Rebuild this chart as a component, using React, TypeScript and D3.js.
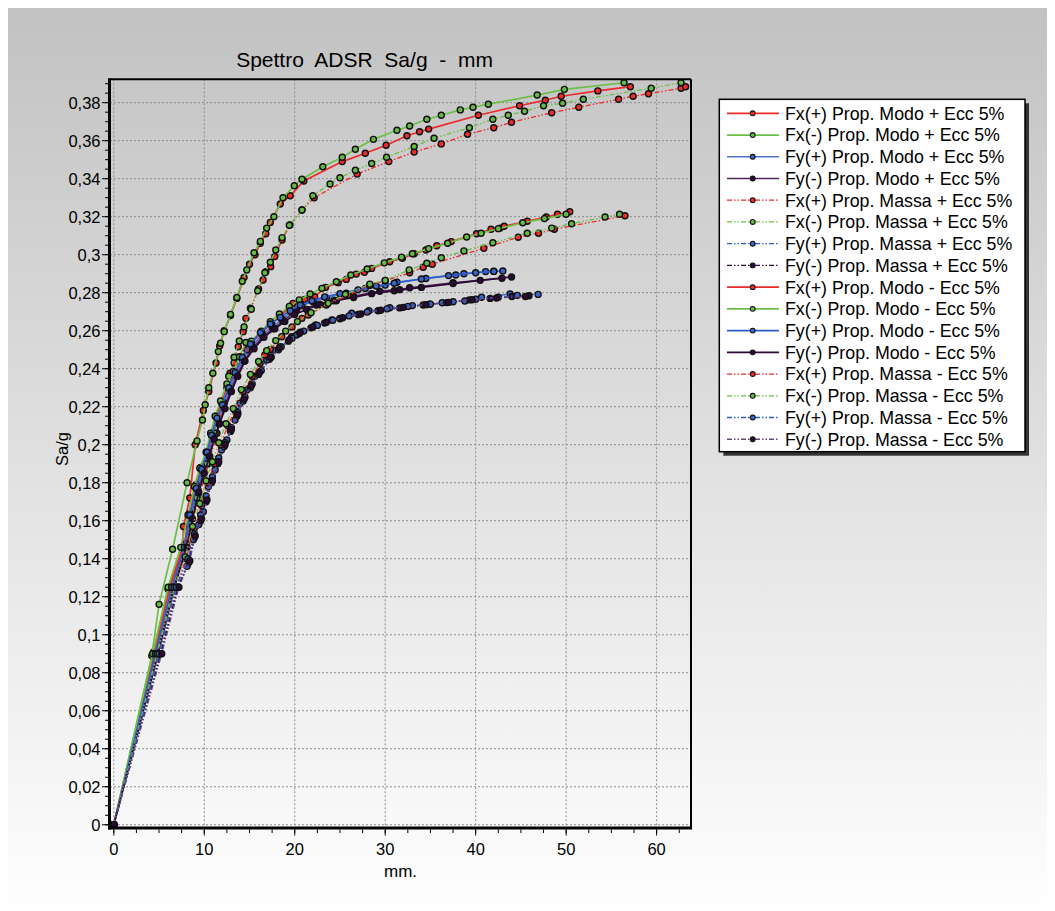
import React from "react";
import * as d3 from "d3";

type Pt = [number, number];

// Pushover capacity curves: displacement (mm) vs spectral acceleration (Sa/g)
const fxPosModoPiu: Pt[] = [
  [0, 0], [4.4, 0.091], [6.0, 0.124], [7.6, 0.146], [7.7, 0.157], [8.4, 0.172], [9.0, 0.2], [9.9, 0.218],
  [10.5, 0.228], [11.3, 0.243], [11.7, 0.252], [12.2, 0.26], [12.9, 0.268], [13.6, 0.277], [14.4, 0.288],
  [15.0, 0.295], [15.6, 0.3], [16.2, 0.306], [16.8, 0.311], [17.3, 0.317], [18.4, 0.3267], [19.5, 0.331],
  [21.0, 0.3388], [25.25, 0.349], [27.8, 0.3534], [30.1, 0.3576], [32.4, 0.3626], [33.8, 0.3647],
  [34.8, 0.3661], [40.3, 0.3734], [44.85, 0.3784], [47.7, 0.3813], [49.45, 0.3834], [53.5, 0.3862], [57.1, 0.3884],
];
const fxNegModoPiu: Pt[] = [
  [0, 0], [4.2, 0.089], [5.0, 0.116], [6.5, 0.145], [8.1, 0.18], [9.2, 0.202], [9.8, 0.213], [10.1, 0.221],
  [10.5, 0.23], [10.95, 0.2376], [11.55, 0.249], [11.8, 0.2534], [12.2, 0.2595], [12.9, 0.2686], [13.6, 0.2775],
  [14.2, 0.286], [14.7, 0.292], [15.5, 0.301], [16.2, 0.307], [16.9, 0.314], [17.7, 0.32], [18.7, 0.33],
  [19.95, 0.3363], [20.8, 0.3397], [23.1, 0.3463], [25.25, 0.3513], [26.7, 0.3555], [28.7, 0.3607], [31.3, 0.3655],
  [32.7, 0.3677], [34.6, 0.3713], [36.2, 0.3734], [38.3, 0.3762], [39.7, 0.3776], [41.4, 0.3792], [46.8, 0.384],
  [49.8, 0.387], [56.4, 0.3905],
];
const fyPosModoPiu: Pt[] = [
  [0, 0], [4.7, 0.09], [6.5, 0.125], [7.9, 0.146], [8.5, 0.162], [9.2, 0.176], [9.8, 0.186], [10.4, 0.195],
  [10.9, 0.204], [11.5, 0.213], [12.1, 0.22], [12.8, 0.229], [13.5, 0.237], [14.3, 0.245], [15.3, 0.252],
  [16.4, 0.258], [17.5, 0.262], [18.6, 0.266], [19.6, 0.27], [20.8, 0.2734], [22.05, 0.2753], [23.5, 0.2772],
  [25.7, 0.2797], [27.8, 0.2822], [30.0, 0.284], [31.3, 0.2855], [34.5, 0.2875], [37.8, 0.2893], [38.7, 0.29],
  [41.1, 0.2911], [42.0, 0.2913], [43.0, 0.2914],
];
const fyNegModoPiu: Pt[] = [
  [0, 0], [4.8, 0.09], [6.6, 0.125], [8.0, 0.146], [8.6, 0.161], [9.3, 0.175], [9.9, 0.185], [10.5, 0.194],
  [11.0, 0.203], [11.6, 0.211], [12.2, 0.219], [12.9, 0.228], [13.6, 0.236], [14.4, 0.244], [15.4, 0.251],
  [16.5, 0.257], [17.6, 0.261], [18.7, 0.265], [20.2, 0.2709], [22.4, 0.2735], [24.3, 0.2758], [26.5, 0.2781],
  [29.4, 0.2808], [31.6, 0.2816], [32.7, 0.2826], [37.5, 0.2852], [42.9, 0.2876],
];
const fxPosMassaPiu: Pt[] = [
  [0, 0], [4.9, 0.09], [6.7, 0.125], [8.0, 0.148], [9.4, 0.172], [10.5, 0.19], [11.4, 0.206], [12.2, 0.222],
  [12.84, 0.2376], [13.3, 0.243], [13.76, 0.2516], [14.3, 0.2595], [14.6, 0.2665], [15.1, 0.2718], [16.0, 0.282],
  [16.5, 0.2867], [16.8, 0.291], [17.34, 0.2937], [17.8, 0.299], [18.6, 0.3077], [19.47, 0.3156], [20.8, 0.3235],
  [22.15, 0.33], [26.9, 0.3424], [30.4, 0.349], [33.2, 0.354], [36.2, 0.3583], [39.1, 0.3634], [42.0, 0.3668],
  [43.96, 0.3697], [48.4, 0.3747], [51.4, 0.3776], [55.8, 0.3818], [57.4, 0.3834], [59.1, 0.3847], [62.7, 0.3876],
  [63.2, 0.3884],
];
const fxNegMassaPiu: Pt[] = [
  [0, 0], [4.7, 0.09], [6.5, 0.124], [7.8, 0.147], [9.2, 0.172], [10.3, 0.19], [11.2, 0.206], [12.0, 0.222],
  [12.7, 0.236], [13.3, 0.246], [13.87, 0.2546], [14.4, 0.262], [15.2, 0.2713], [15.9, 0.281], [16.7, 0.2905],
  [17.3, 0.296], [17.9, 0.3025], [18.6, 0.309], [19.4, 0.3155], [20.8, 0.3235], [22.0, 0.331], [23.9, 0.3372],
  [25.0, 0.3405], [26.7, 0.3444], [28.5, 0.348], [30.15, 0.3513], [33.2, 0.3569], [35.4, 0.3613], [39.3, 0.3668],
  [41.9, 0.3713], [43.6, 0.3734], [45.4, 0.3755], [47.5, 0.3784], [49.6, 0.3797], [51.9, 0.3818], [59.4, 0.3876],
  [62.7, 0.3905],
];
const fyPosMassaPiu: Pt[] = [
  [0, 0], [5.1, 0.09], [7.0, 0.125], [8.1, 0.136], [8.8, 0.15], [9.4, 0.158], [9.9, 0.1647], [10.45, 0.1779],
  [11.2, 0.1867], [11.9, 0.1972], [12.5, 0.2025], [13.4, 0.213], [13.95, 0.2218], [14.7, 0.2288], [15.6, 0.236],
  [16.9, 0.2446], [17.6, 0.2498], [18.4, 0.2516], [19.66, 0.2568], [20.2, 0.2577], [22.3, 0.263], [24.1, 0.2656],
  [25.0, 0.2665], [26.3, 0.2692], [28.2, 0.2705], [30.5, 0.2721], [33.0, 0.2732], [34.9, 0.2739], [36.3, 0.2747],
  [38.8, 0.2756], [40.65, 0.2776], [43.8, 0.2793], [46.9, 0.2791],
];
const fyNegMassaPiu: Pt[] = [
  [0, 0], [5.2, 0.09], [7.1, 0.125], [8.3, 0.138], [8.9, 0.151], [9.6, 0.16], [10.2, 0.17], [10.8, 0.18],
  [11.5, 0.19], [12.2, 0.199], [12.9, 0.207], [13.6, 0.215], [14.3, 0.223], [15.1, 0.23], [16.0, 0.237],
  [17.2, 0.245], [18.2, 0.25], [19.3, 0.2545], [20.5, 0.2585], [21.8, 0.2615], [23.3, 0.264], [25.0, 0.2663],
  [27.0, 0.2685], [29.2, 0.2705], [31.6, 0.272], [34.2, 0.2735], [36.8, 0.2748], [39.3, 0.2762], [41.6, 0.277],
  [44.0, 0.278], [45.9, 0.2784],
];
const fxPosModoMeno: Pt[] = [
  [0, 0], [4.5, 0.09], [6.2, 0.125], [7.7, 0.1455], [8.4, 0.164], [9.1, 0.179], [9.6, 0.188], [10.3, 0.196],
  [10.8, 0.205], [11.3, 0.215], [11.9, 0.222], [12.5, 0.23], [13.4, 0.2376], [14.1, 0.2455], [14.7, 0.25],
  [15.2, 0.2534], [16.35, 0.259], [17.45, 0.2639], [18.4, 0.2675], [19.8, 0.2744], [21.1, 0.2765], [22.2, 0.2779],
  [23.4, 0.2828], [24.8, 0.2853], [25.7, 0.287], [26.8, 0.2898], [27.7, 0.2907], [28.5, 0.2928], [30.5, 0.2963],
  [31.9, 0.2981], [33.2, 0.3005], [34.5, 0.3025], [35.7, 0.3047], [37.3, 0.3069], [40.1, 0.311], [41.7, 0.3134],
  [42.7, 0.314], [43.15, 0.315], [45.7, 0.3176], [47.8, 0.3198], [49.05, 0.3213], [50.4, 0.3226],
];
const fxNegModoMeno: Pt[] = [
  [0, 0], [4.3, 0.09], [6.0, 0.125], [7.4, 0.146], [8.2, 0.163], [8.9, 0.178], [9.5, 0.1876], [10.2, 0.196],
  [10.7, 0.206], [11.2, 0.215], [11.8, 0.223], [12.5, 0.232], [13.2, 0.2386], [13.9, 0.2463], [14.6, 0.2538],
  [15.2, 0.2545], [16.3, 0.2598], [17.3, 0.2648], [18.3, 0.2688], [19.4, 0.2728], [20.5, 0.2762], [21.7, 0.2793],
  [23.0, 0.2823], [24.6, 0.2858], [26.2, 0.2893], [28.0, 0.2925], [29.9, 0.2957], [31.8, 0.2987], [33.0, 0.3005],
  [34.8, 0.3032], [36.9, 0.306], [39.0, 0.3093], [40.6, 0.3113], [42.5, 0.3137], [45.2, 0.3168], [47.6, 0.319],
  [50.0, 0.3213],
];
const fyPosModoMeno: Pt[] = [
  [0, 0], [4.6, 0.09], [6.4, 0.125], [7.8, 0.146], [8.4, 0.163], [9.1, 0.177], [9.7, 0.187], [10.3, 0.196],
  [10.8, 0.205], [11.4, 0.214], [12.0, 0.221], [12.7, 0.23], [13.4, 0.238], [14.2, 0.246], [15.1, 0.253],
  [16.2, 0.259], [17.3, 0.2635], [18.4, 0.267], [19.5, 0.2705], [20.6, 0.2735], [21.9, 0.2757], [23.3, 0.2778],
  [25.0, 0.2795], [27.0, 0.2815], [29.0, 0.2835], [31.0, 0.285], [34.0, 0.2872], [37.0, 0.289], [40.0, 0.2905],
  [42.0, 0.2912],
];
const fyNegModoMeno: Pt[] = [
  [0, 0], [4.9, 0.09], [6.7, 0.125], [8.1, 0.146], [8.7, 0.161], [9.4, 0.175], [10.0, 0.185], [10.6, 0.194],
  [11.1, 0.203], [11.7, 0.211], [12.3, 0.219], [13.0, 0.228], [13.7, 0.236], [14.5, 0.244], [15.5, 0.2505],
  [16.6, 0.2565], [17.8, 0.261], [18.9, 0.2648], [20.0, 0.2685], [21.3, 0.2712], [22.8, 0.2738], [24.6, 0.2758],
  [26.5, 0.2775], [28.5, 0.2795], [31.0, 0.281], [34.0, 0.2828], [37.5, 0.2848], [40.5, 0.2865], [43.96, 0.2883],
];
const fxPosMassaMeno: Pt[] = [
  [0, 0], [5.0, 0.09], [6.9, 0.125], [8.0, 0.14], [8.9, 0.156], [9.7, 0.168], [10.4, 0.18], [11.1, 0.19],
  [11.8, 0.2], [12.6, 0.21], [13.4, 0.218], [14.3, 0.228], [15.3, 0.236], [16.16, 0.2428], [16.7, 0.2472],
  [17.3, 0.2502], [18.56, 0.2568], [19.7, 0.262], [20.8, 0.2665], [21.5, 0.2683], [23.5, 0.2735], [25.9, 0.2788],
  [28.3, 0.2838], [30.0, 0.2863], [32.7, 0.2905], [34.2, 0.2934], [35.2, 0.295], [40.9, 0.3034], [44.7, 0.3092],
  [46.95, 0.3113], [48.7, 0.3134], [56.5, 0.3205],
];
const fxNegMassaMeno: Pt[] = [
  [0, 0], [4.8, 0.09], [6.7, 0.125], [7.9, 0.141], [8.7, 0.157], [9.5, 0.169], [10.2, 0.181], [10.9, 0.191],
  [11.6, 0.201], [12.4, 0.211], [13.2, 0.219], [14.1, 0.229], [15.1, 0.237], [16.0, 0.2438], [16.9, 0.2495],
  [17.9, 0.2548], [19.0, 0.2598], [20.3, 0.2648], [21.8, 0.2695], [23.7, 0.2744], [25.6, 0.2792], [28.3, 0.2845],
  [30.0, 0.2865], [32.65, 0.292], [34.6, 0.2955], [36.2, 0.2984], [38.7, 0.302], [41.9, 0.3063], [45.7, 0.3113],
  [48.4, 0.314], [50.6, 0.3163], [54.3, 0.3198], [55.9, 0.3213],
];
const fyPosMassaMeno: Pt[] = [
  [0, 0], [5.0, 0.09], [6.9, 0.125], [8.2, 0.14], [8.9, 0.153], [9.6, 0.163], [10.2, 0.173], [10.9, 0.183],
  [11.6, 0.193], [12.3, 0.201], [13.0, 0.209], [13.7, 0.217], [14.5, 0.225], [15.3, 0.232], [16.3, 0.239],
  [17.4, 0.246], [18.5, 0.2515], [19.7, 0.256], [21.0, 0.2598], [22.5, 0.2628], [24.2, 0.2655], [26.0, 0.2678],
  [28.0, 0.2698], [30.2, 0.2715], [32.5, 0.2728], [35.0, 0.274], [37.5, 0.2752], [40.0, 0.2766], [42.5, 0.2776],
  [44.6, 0.2786],
];
const fyNegMassaMeno: Pt[] = [
  [0, 0], [5.3, 0.09], [7.2, 0.125], [8.4, 0.139], [9.0, 0.152], [9.7, 0.161], [10.3, 0.171], [10.9, 0.181],
  [11.6, 0.191], [12.3, 0.2], [13.0, 0.208], [13.7, 0.216], [14.4, 0.224], [15.2, 0.231], [16.1, 0.238],
  [17.3, 0.246], [18.3, 0.251], [19.4, 0.2553], [20.6, 0.2592], [22.0, 0.262], [23.5, 0.2645], [25.3, 0.2668],
  [27.3, 0.2688], [29.5, 0.2708], [32.0, 0.2723], [34.5, 0.2737], [37.0, 0.2749], [39.6, 0.2763], [42.3, 0.2772],
  [45.5, 0.278],
];

const seriesNames = [
  "Fx(+) Prop. Modo + Ecc 5%",
  "Fx(-) Prop. Modo + Ecc 5%",
  "Fy(+) Prop. Modo + Ecc 5%",
  "Fy(-) Prop. Modo + Ecc 5%",
  "Fx(+) Prop. Massa + Ecc 5%",
  "Fx(-) Prop. Massa + Ecc 5%",
  "Fy(+) Prop. Massa + Ecc 5%",
  "Fy(-) Prop. Massa + Ecc 5%",
  "Fx(+) Prop. Modo - Ecc 5%",
  "Fx(-) Prop. Modo - Ecc 5%",
  "Fy(+) Prop. Modo - Ecc 5%",
  "Fy(-) Prop. Modo - Ecc 5%",
  "Fx(+) Prop. Massa - Ecc 5%",
  "Fx(-) Prop. Massa - Ecc 5%",
  "Fy(+) Prop. Massa - Ecc 5%",
  "Fy(-) Prop. Massa - Ecc 5%",
];
const seriesData: Pt[][] = [
  fxPosModoPiu, fxNegModoPiu, fyPosModoPiu, fyNegModoPiu,
  fxPosMassaPiu, fxNegMassaPiu, fyPosMassaPiu, fyNegMassaPiu,
  fxPosModoMeno, fxNegModoMeno, fyPosModoMeno, fyNegModoMeno,
  fxPosMassaMeno, fxNegMassaMeno, fyPosMassaMeno, fyNegMassaMeno,
];

const xTicks = [0, 10, 20, 30, 40, 50, 60];
const yTicks = d3.range(0, 0.381, 0.02).map((v) => +v.toFixed(2));

const RED = "#ee2a2a";
const GREEN = "#6cbf45";
const BLUE_L = "#5174c2";
const BLUE_D = "#2c5ccf";
const PURP_L = "#4d2358";
const PURP_D = "#2c0838";
const PURP_M = "#6a4678";

type Style = { color: string; fill: string; dashed: boolean };
const styles: Style[] = [
  { color: RED, fill: "#ee2a2a", dashed: false },
  { color: GREEN, fill: "#66bb44", dashed: false },
  { color: BLUE_L, fill: "#3a66c8", dashed: false },
  { color: PURP_L, fill: "#2c0a36", dashed: false },
  { color: RED, fill: "#ee2a2a", dashed: true },
  { color: GREEN, fill: "#66bb44", dashed: true },
  { color: BLUE_D, fill: "#3a66c8", dashed: true },
  { color: PURP_D, fill: "#2c0a36", dashed: true },
  { color: RED, fill: "#ee2a2a", dashed: false },
  { color: GREEN, fill: "#66bb44", dashed: false },
  { color: BLUE_D, fill: "#3a66c8", dashed: false },
  { color: PURP_D, fill: "#2c0a36", dashed: false },
  { color: RED, fill: "#ee2a2a", dashed: true },
  { color: GREEN, fill: "#66bb44", dashed: true },
  { color: BLUE_D, fill: "#3a66c8", dashed: true },
  { color: PURP_M, fill: "#2c0a36", dashed: true },
];

const W = 1039;
const H = 895;
const plot = { left: 102, right: 683, top: 71.3, bottom: 820 };
const FONT = "'Liberation Sans', Arial, Helvetica, sans-serif";
const DASH = "5,2,1.5,2,1.5,2";

export default function App() {
  const x = d3.scaleLinear().domain([-0.42, 63.8]).range([plot.left, plot.right]);
  const y = d3.scaleLinear().domain([-0.0017, 0.3923]).range([plot.bottom, plot.top]);
  const line = d3
    .line<Pt>()
    .x((d) => x(d[0]))
    .y((d) => y(d[1]));

  const yMinor = d3.range(0, 0.3901, 0.005).map((v) => +v.toFixed(3));
  const xMinor = d3.range(0, 63.6, 2.5);

  const legend = { x: 711.3, y: 91.3, w: 305.7, h: 352.4, row0: 105.3, step: 21.73 };

  return (
    <svg width={W} height={H} style={{ display: "block", fontFamily: FONT }}>
      <defs>
        <linearGradient id="bg" x1="0" y1="0" x2="0" y2="1">
          <stop offset="0%" stopColor="#c2c2c2" />
          <stop offset="100%" stopColor="#fefefe" />
        </linearGradient>
        <clipPath id="plotClip">
          <rect x={plot.left} y={plot.top} width={plot.right - plot.left} height={plot.bottom - plot.top} />
        </clipPath>
      </defs>
      <rect x={0} y={0} width={W} height={H} fill="url(#bg)" />

      {/* grid */}
      <g stroke="#8c8c8c" strokeWidth={1} strokeDasharray="2,2">
        {xTicks.map((t) => (
          <line key={"gx" + t} x1={x(t)} x2={x(t)} y1={plot.top} y2={plot.bottom} />
        ))}
        {yTicks.map((t) => (
          <line key={"gy" + t} x1={plot.left} x2={plot.right} y1={y(t)} y2={y(t)} />
        ))}
      </g>

      {/* curves */}
      <g clipPath="url(#plotClip)">
        {seriesData.map((data, i) => {
          const s = styles[i];
          return (
            <g key={"s" + i}>
              <path
                d={line(data) || ""}
                fill="none"
                stroke={s.color}
                strokeWidth={s.dashed ? 1.3 : 1.7}
                strokeDasharray={s.dashed ? DASH : undefined}
              />
              {data.map((d, j) => (
                <circle key={j} cx={x(d[0])} cy={y(d[1])} r={3} fill={s.fill} stroke="#111" strokeWidth={1.4} />
              ))}
            </g>
          );
        })}
      </g>

      {/* frame */}
      <line x1={plot.left} x2={plot.right} y1={plot.top} y2={plot.top} stroke="#000" strokeWidth={2} />
      <line x1={plot.right} x2={plot.right} y1={plot.top} y2={plot.bottom} stroke="#000" strokeWidth={2} />
      <line x1={plot.left - 0.5} x2={plot.left - 0.5} y1={plot.top - 1} y2={plot.bottom + 1.5} stroke="#000" strokeWidth={3} />
      <line x1={plot.left - 2} x2={plot.right + 1} y1={plot.bottom} y2={plot.bottom} stroke="#000" strokeWidth={3} />

      {/* y ticks */}
      <g stroke="#000" strokeWidth={1}>
        {yMinor.map((t) => (
          <line key={"ym" + t} x1={97} x2={100} y1={y(t)} y2={y(t)} />
        ))}
        {yTicks.map((t) => (
          <line key={"yt" + t} x1={94} x2={100} y1={y(t)} y2={y(t)} />
        ))}
      </g>
      <g fontSize={16.5} textAnchor="end" fill="#000">
        {yTicks.map((t) => (
          <text key={"yl" + t} x={92.5} y={y(t)} dy="0.36em">
            {t === 0 ? "0" : d3.format(".2~f")(t).replace(".", ",")}
          </text>
        ))}
      </g>

      {/* x ticks */}
      <g stroke="#000" strokeWidth={1}>
        {xMinor.map((t) => (
          <line key={"xm" + t} x1={x(t)} x2={x(t)} y1={821.5} y2={825} />
        ))}
        {xTicks.map((t) => (
          <line key={"xt" + t} x1={x(t)} x2={x(t)} y1={821.5} y2={827.5} />
        ))}
      </g>
      <g fontSize={16.5} textAnchor="middle" fill="#000">
        {xTicks.map((t) => (
          <text key={"xl" + t} x={x(t)} y={847}>
            {t}
          </text>
        ))}
      </g>

      {/* titles */}
      <text x={356.5} y={58.7} fontSize={21} textAnchor="middle" style={{ whiteSpace: "pre" }}>
        {"Spettro  ADSR  Sa/g  -  mm"}
      </text>
      <text x={(plot.left + plot.right) / 2} y={869} fontSize={17} textAnchor="middle">
        mm.
      </text>
      <text transform={`translate(60,441) rotate(-90)`} fontSize={16.5} textAnchor="middle">
        Sa/g
      </text>

      {/* legend */}
      <rect x={legend.x + 4} y={legend.y + 4} width={legend.w} height={legend.h} fill="#333" />
      <rect x={legend.x} y={legend.y} width={legend.w} height={legend.h} fill="#fff" stroke="#000" strokeWidth={1.5} />
      {seriesNames.map((name, i) => {
        const s = styles[i];
        const cy = legend.row0 + i * legend.step;
        return (
          <g key={"lg" + i}>
            <line
              x1={719}
              x2={771}
              y1={cy}
              y2={cy}
              stroke={s.color}
              strokeWidth={s.dashed ? 1.3 : 1.7}
              strokeDasharray={s.dashed ? DASH : undefined}
            />
            <circle cx={744.7} cy={cy} r={2.4} fill={s.fill} stroke="#111" strokeWidth={1.1} />
            <text x={777} y={cy} dy="0.36em" fontSize={17.8} fill="#000">
              {name}
            </text>
          </g>
        );
      })}
    </svg>
  );
}
